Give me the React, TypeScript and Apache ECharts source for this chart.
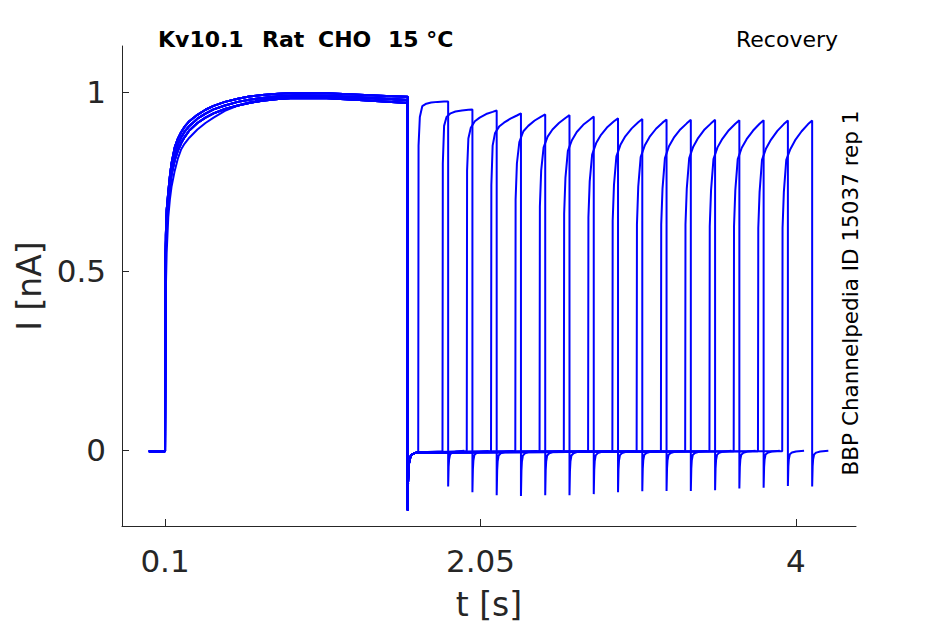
import React, { useEffect, useRef } from "react";
import * as echarts from "echarts";

// ---- Data ----
const X_TICKS = [0.1, 2.05, 4];
const X_TICK_LABELS = ["0.1", "2.05", "4"];
const Y_TICKS = [0, 0.5, 1];
const Y_TICK_LABELS = ["0", "0.5", "1"];

const SWEEP_START = 0;
const PULSE1_ON = 0.1;
const PULSE1_OFF = 1.6;
const BASELINE = -0.003;

// first (conditioning) pulse: time after onset (s) and current (nA), four observed kinetics
const FIRST_T = [0, 0.002, 0.005, 0.01, 0.02, 0.03, 0.04, 0.06, 0.08, 0.1, 0.12, 0.15, 0.2, 0.25, 0.3, 0.37, 0.45, 0.52, 0.6, 0.7, 0.8, 1.0, 1.2, 1.4, 1.5];
const FIRST_A = [0, 0.45, 0.6, 0.67, 0.72, 0.765, 0.8, 0.845, 0.87, 0.888, 0.902, 0.918, 0.936, 0.95, 0.961, 0.972, 0.981, 0.987, 0.991, 0.995, 0.997, 0.996, 0.992, 0.988, 0.986];
const FIRST_C = [0, 0.42, 0.57, 0.645, 0.705, 0.75, 0.785, 0.828, 0.854, 0.873, 0.888, 0.905, 0.925, 0.939, 0.951, 0.962, 0.972, 0.978, 0.983, 0.988, 0.99, 0.989, 0.985, 0.98, 0.977];
const FIRST_B = [0, 0.4, 0.55, 0.62, 0.69, 0.735, 0.77, 0.81, 0.837, 0.857, 0.873, 0.892, 0.913, 0.928, 0.94, 0.952, 0.962, 0.969, 0.975, 0.98, 0.983, 0.982, 0.977, 0.972, 0.969];
const FIRST_D = [0, 0.3, 0.45, 0.55, 0.65, 0.7, 0.735, 0.78, 0.815, 0.84, 0.855, 0.872, 0.895, 0.913, 0.928, 0.947, 0.962, 0.971, 0.978, 0.984, 0.988, 0.986, 0.982, 0.978, 0.975];
const FIRST_VARIANT = ["A", "C", "B", "A", "C", "B", "A", "C", "B", "A", "C", "B", "A", "C", "B", "D"];

// tail after the first pulse
const TAIL1_T = [0, 0.002, 0.005, 0.01, 0.02, 0.04, 0.06];
const TAIL1_I = [-0.168, -0.09, -0.05, -0.03, -0.015, -0.009, -0.007];

// second (test) pulse onsets per sweep (s)
const SECOND_ON = [1.665, 1.815, 1.965, 2.115, 2.265, 2.415, 2.565, 2.715, 2.865, 3.015, 3.165, 3.315, 3.465, 3.615, 3.765, 3.915];
const SECOND_T = [0, 0.002, 0.01, 0.025, 0.05, 0.08, 0.12, 0.16, 0.185];
const SECOND_I = [
  [0, 0.85, 0.93, 0.96, 0.967, 0.97, 0.972, 0.973, 0.973],
  [0, 0.8, 0.905, 0.93, 0.94, 0.945, 0.948, 0.95, 0.951],
  [0, 0.78, 0.87, 0.9, 0.918, 0.928, 0.938, 0.944, 0.948],
  [0, 0.74, 0.85, 0.885, 0.903, 0.914, 0.925, 0.934, 0.94],
  [0, 0.7, 0.8, 0.86, 0.89, 0.905, 0.92, 0.931, 0.937],
  [0, 0.68, 0.78, 0.845, 0.875, 0.895, 0.913, 0.927, 0.935],
  [0, 0.66, 0.76, 0.835, 0.865, 0.888, 0.908, 0.922, 0.931],
  [0, 0.65, 0.75, 0.825, 0.857, 0.88, 0.902, 0.918, 0.926],
  [0, 0.64, 0.74, 0.82, 0.852, 0.876, 0.898, 0.915, 0.924],
  [0, 0.63, 0.735, 0.818, 0.85, 0.874, 0.897, 0.914, 0.923],
  [0, 0.63, 0.73, 0.815, 0.848, 0.872, 0.895, 0.912, 0.922],
  [0, 0.63, 0.73, 0.815, 0.847, 0.871, 0.895, 0.912, 0.922],
  [0, 0.625, 0.725, 0.812, 0.845, 0.869, 0.893, 0.911, 0.921],
  [0, 0.625, 0.725, 0.812, 0.844, 0.868, 0.892, 0.911, 0.921],
  [0, 0.62, 0.72, 0.81, 0.842, 0.866, 0.891, 0.91, 0.92],
  [0, 0.62, 0.72, 0.81, 0.84, 0.865, 0.89, 0.91, 0.92],
];

// tail after the second pulse: depth per sweep and relative recovery shape
const TAIL2_DEPTH = [-0.102, -0.118, -0.126, -0.128, -0.126, -0.126, -0.123, -0.118, -0.115, -0.114, -0.114, -0.112, -0.107, -0.105, -0.1, -0.102];
const TAIL2_T = [0, 0.003, 0.006, 0.012, 0.025, 0.05, 0.1];
const TAIL2_F = [1, 0.45, 0.25, 0.12, 0.07, 0.04, 0.02];

function buildSweep(k: number): number[][] {
  const pts: number[][] = [];
  pts.push([SWEEP_START, BASELINE], [PULSE1_ON, BASELINE]);
  const v = FIRST_VARIANT[k];
  const first = v === "A" ? FIRST_A : v === "B" ? FIRST_B : v === "C" ? FIRST_C : FIRST_D;
  FIRST_T.forEach((t, i) => pts.push([PULSE1_ON + t, first[i]]));
  const on = SECOND_ON[k];
  TAIL1_T.forEach((t, i) => {
    if (PULSE1_OFF + t < on) pts.push([PULSE1_OFF + t, TAIL1_I[i]]);
  });
  pts.push([on, BASELINE]);
  const sec = SECOND_I[k];
  SECOND_T.forEach((t, i) => {
    if (i > 0) pts.push([on + t, sec[i]]);
  });
  const off = on + SECOND_T[SECOND_T.length - 1];
  TAIL2_T.forEach((t, i) => pts.push([off + t, TAIL2_DEPTH[k] * TAIL2_F[i]]));
  return pts;
}

const FONT = '"DejaVu Sans", "Liberation Sans", sans-serif';
const AXIS_COLOR = "#262626";

export default function App() {
  const ref = useRef<HTMLDivElement>(null);
  useEffect(() => {
    if (!ref.current) return;
    const chart = echarts.init(ref.current, null, { renderer: "svg" });
    const series = SECOND_ON.map((_, k) => ({
      type: "line",
      data: buildSweep(k),
      showSymbol: false,
      symbol: "none",
      lineStyle: { color: "#0000ff", width: 2 },
      itemStyle: { color: "#0000ff" },
      silent: true,
      clip: true,
    }));
    chart.setOption({
      animation: false,
      backgroundColor: "#ffffff",
      grid: { left: 122, top: 46, width: 734, height: 480, containLabel: false, outerBoundsMode: "none" },
      xAxis: {
        type: "value",
        min: -0.166,
        max: 4.371,
        name: "t [s]",
        nameLocation: "middle",
        nameGap: 62,
        nameTextStyle: { fontSize: 33, color: AXIS_COLOR, fontFamily: FONT },
        axisLine: { show: true, onZero: false, lineStyle: { color: AXIS_COLOR, width: 1 } },
        axisTick: { show: true, inside: true, length: 7, customValues: X_TICKS, lineStyle: { color: AXIS_COLOR } },
        axisLabel: {
          show: true,
          customValues: X_TICKS,
          formatter: (val: number) => {
            const i = X_TICKS.findIndex((t) => Math.abs(t - val) < 1e-6);
            return i >= 0 ? X_TICK_LABELS[i] : "";
          },
          fontSize: 31,
          color: AXIS_COLOR,
          fontFamily: FONT,
          margin: 19,
        },
        splitLine: { show: false },
      },
      yAxis: {
        type: "value",
        min: -0.212,
        max: 1.128,
        name: "I [nA]",
        nameLocation: "middle",
        nameGap: 76,
        nameTextStyle: { fontSize: 33, color: AXIS_COLOR, fontFamily: FONT },
        axisLine: { show: true, onZero: false, lineStyle: { color: AXIS_COLOR, width: 1 } },
        axisTick: { show: true, inside: true, length: 7, customValues: Y_TICKS, lineStyle: { color: AXIS_COLOR } },
        axisLabel: {
          show: true,
          customValues: Y_TICKS,
          formatter: (val: number) => {
            const i = Y_TICKS.findIndex((t) => Math.abs(t - val) < 1e-6);
            return i >= 0 ? Y_TICK_LABELS[i] : "";
          },
          fontSize: 31,
          color: AXIS_COLOR,
          fontFamily: FONT,
          margin: 16,
        },
        splitLine: { show: false },
      },
      graphic: [
        { type: "text", x: 158, y: 39, style: { text: "Kv10.1", font: `bold 22px ${FONT}`, fill: "#000", verticalAlign: "middle" } },
        { type: "text", x: 262, y: 39, style: { text: "Rat", font: `bold 22px ${FONT}`, fill: "#000", verticalAlign: "middle" } },
        { type: "text", x: 318, y: 39, style: { text: "CHO", font: `bold 22px ${FONT}`, fill: "#000", verticalAlign: "middle" } },
        { type: "text", x: 388, y: 39, style: { text: "15 °C", font: `bold 22px ${FONT}`, fill: "#000", verticalAlign: "middle" } },
        { type: "text", x: 736, y: 39, style: { text: "Recovery", font: `22px ${FONT}`, fill: "#000", verticalAlign: "middle" } },
        {
          type: "text",
          x: 850,
          y: 293,
          rotation: Math.PI / 2,
          style: { text: "BBP Channelpedia ID 15037 rep 1", font: `21.5px ${FONT}`, fill: "#000", align: "center", verticalAlign: "middle" },
        },
      ],
      series,
    });
    return () => chart.dispose();
  }, []);
  return <div ref={ref} style={{ position: "absolute", left: 0, top: 0, width: 945, height: 624 }} />;
}
